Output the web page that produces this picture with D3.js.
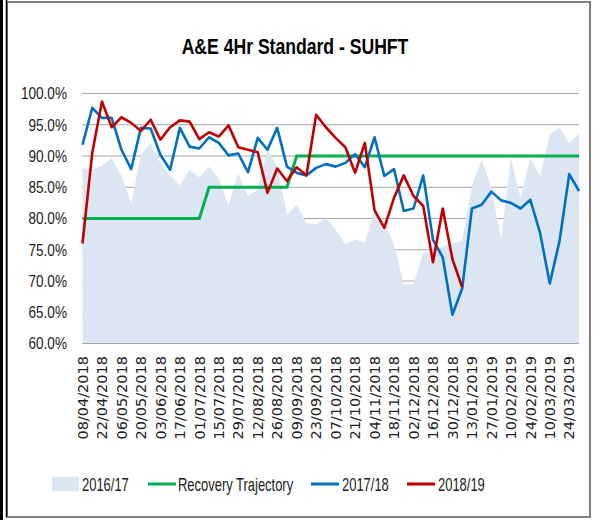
<!DOCTYPE html>
<html><head><meta charset="utf-8">
<script src="https://cdn.jsdelivr.net/npm/d3@7"></script>
<style>body{margin:0;background:#fff}</style>
</head><body><svg id="c" width="593" height="520"></svg>
<script>
const weeks = ["08/04/2018","15/04/2018","22/04/2018","29/04/2018","06/05/2018","13/05/2018","20/05/2018","27/05/2018",
"03/06/2018","10/06/2018","17/06/2018","24/06/2018","01/07/2018","08/07/2018","15/07/2018","22/07/2018","29/07/2018",
"05/08/2018","12/08/2018","19/08/2018","26/08/2018","02/09/2018","09/09/2018","16/09/2018","23/09/2018","30/09/2018",
"07/10/2018","14/10/2018","21/10/2018","28/10/2018","04/11/2018","11/11/2018","18/11/2018","25/11/2018",
"02/12/2018","09/12/2018","16/12/2018","23/12/2018","30/12/2018","06/01/2019","13/01/2019","20/01/2019","27/01/2019",
"03/02/2019","10/02/2019","17/02/2019","24/02/2019","03/03/2019","10/03/2019","17/03/2019","24/03/2019","31/03/2019"];
const tickLabels = ["08/04/2018","22/04/2018","06/05/2018","20/05/2018","03/06/2018","17/06/2018","01/07/2018","15/07/2018",
"29/07/2018","12/08/2018","26/08/2018","09/09/2018","23/09/2018","07/10/2018","21/10/2018","04/11/2018","18/11/2018",
"02/12/2018","16/12/2018","30/12/2018","13/01/2019","27/01/2019","10/02/2019","24/02/2019","10/03/2019","24/03/2019"];
const yTicks = [60,65,70,75,80,85,90,95,100];

const s2016 = [88.1,87.8,88.5,89.6,86.8,82.5,90.2,92.1,88.9,86.8,85.3,87.8,86.6,88.3,86.4,82.2,87.3,83.6,84.6,91.0,
88.3,80.6,82.2,79.3,79.1,80.1,78.2,75.9,76.7,76.1,81.2,79.3,75.9,69.5,69.5,74.5,75.0,75.5,76.0,76.5,85.2,89.4,84.9,
76.6,89.7,83.3,89.7,86.8,93.4,94.6,92.0,93.7];
const recovery = [80,80,80,80,80,80,80,80,80,80,80,80,80,85,85,85,85,85,85,85,85,85,90,90,90,90,90,90,90,90,90,90,
90,90,90,90,90,90,90,90,90,90,90,90,90,90,90,90,90,90,90,90];
const s2017 = [91.8,97.7,96.1,96.1,91.0,87.9,94.5,94.4,90.2,87.8,94.5,91.5,91.2,93.0,92.1,90.1,90.4,87.4,92.9,91.0,
94.5,88.3,87.3,86.9,88.1,88.7,88.3,88.9,90.3,88.2,93.0,86.8,87.9,81.2,81.6,86.9,76.6,73.8,64.6,68.8,81.6,82.2,84.3,
82.9,82.5,81.6,83.0,77.7,69.6,76.4,87.1,84.4];
const s2018 = [76.0,90.5,98.7,94.6,96.2,95.3,94.0,95.8,92.6,94.6,95.7,95.5,92.7,93.8,93.1,94.9,91.4,91.0,90.6,84.1,
88.0,86.0,88.2,86.9,96.6,94.6,92.9,91.4,87.3,92.1,81.3,78.5,83.3,86.9,83.6,82.0,73.0,81.6,73.5,69.0];

const seriesNames = ["2016/17","Recovery Trajectory","2017/18","2018/19"];
const colors = {area:"#dce6f2", green:"#00b050", blue:"#0070c0", red:"#c00000"};
const sans = "'Liberation Sans',Arial,sans-serif";

const svg = d3.select("#c");
const x = d3.scalePoint().domain(weeks).range([82.5, 579]);
const y = d3.scaleLinear().domain([60,100]).range([343.5, 93.5]);

// narrow text helper (horizontal squeeze)
function ntext(g, tx, ty, str, size, sx, anchor, bold){
  return g.append("text").attr("transform",`translate(${tx},${ty}) scale(${sx},1)`)
    .attr("text-anchor",anchor||"start")
    .style("font-family",sans).style("font-size",size+"px")
    .style("font-weight",bold?"bold":"normal").attr("fill",bold?"#000":"#222").text(str);
}

// frame
svg.append("rect").attr("x",7).attr("y",2).attr("width",583).attr("height",515)
  .attr("fill","none").attr("stroke","#7f7f7f").attr("stroke-width",2);
svg.append("line").attr("x1",1.5).attr("x2",1.5).attr("y1",0).attr("y2",520)
  .attr("stroke","#000").attr("stroke-width",3);
svg.append("line").attr("x1",6.5).attr("x2",6.5).attr("y1",0).attr("y2",517)
  .attr("stroke","#000").attr("stroke-width",1.5);

// title
ntext(svg, 295, 54, "A&E 4Hr Standard - SUHFT", 22, 0.80, "middle", true);

// gridlines
svg.append("g").selectAll("line").data(yTicks.filter(d=>d>60)).join("line")
  .attr("x1",82).attr("x2",579).attr("y1",d=>y(d)).attr("y2",d=>y(d))
  .attr("stroke","#a6a6a6").attr("stroke-width",1);

// area
const area = d3.area().x((d,i)=>x(weeks[i])).y0(y(60)).y1(d=>y(d));
svg.append("path").datum(s2016).attr("d",area).attr("fill",colors.area);

// axis line
svg.append("line").attr("x1",82).attr("x2",579).attr("y1",y(60)).attr("y2",y(60))
  .attr("stroke","#a6a6a6").attr("stroke-width",1.2);

// y labels
const yl = svg.append("g");
yTicks.forEach(d=>ntext(yl, 67, y(d)+5.8, d.toFixed(1)+"%", 16, 0.85, "end"));

// x labels
svg.append("g").selectAll("text").data(tickLabels).join("text")
  .attr("transform",d=>`translate(${x(d)},356) rotate(-90)`)
  .attr("dy","0.36em").attr("text-anchor","end")
  .style("font-family","'DejaVu Sans',sans-serif").style("font-size","14.5px").attr("fill","#222")
  .text(d=>d);

// lines
const line = d3.line().x((d,i)=>x(weeks[i])).y(d=>y(d));
svg.append("path").datum(recovery).attr("d",line).attr("fill","none").attr("stroke",colors.green).attr("stroke-width",3);
svg.append("path").datum(s2017).attr("d",line).attr("fill","none").attr("stroke",colors.blue).attr("stroke-width",2.6).attr("stroke-linejoin","round");
svg.append("path").datum(s2018).attr("d",line).attr("fill","none").attr("stroke",colors.red).attr("stroke-width",2.6).attr("stroke-linejoin","round");

// legend
const lg = svg.append("g");
const lgItems = [
  {name:seriesNames[0], type:"rect", color:colors.area, x:52, tx:82},
  {name:seriesNames[1], type:"line", color:colors.green, x:148, tx:178},
  {name:seriesNames[2], type:"line", color:colors.blue, x:311, tx:342},
  {name:seriesNames[3], type:"line", color:colors.red, x:407, tx:438}
];
lgItems.forEach(it=>{
  if(it.type==="rect") lg.append("rect").attr("x",it.x).attr("y",477).attr("width",27).attr("height",14).attr("fill",it.color);
  else lg.append("line").attr("x1",it.x).attr("x2",it.x+28).attr("y1",484).attr("y2",484).attr("stroke",it.color).attr("stroke-width",3);
  ntext(lg, it.tx, 491, it.name, 18, 0.72, "start");
});
</script></body></html>
